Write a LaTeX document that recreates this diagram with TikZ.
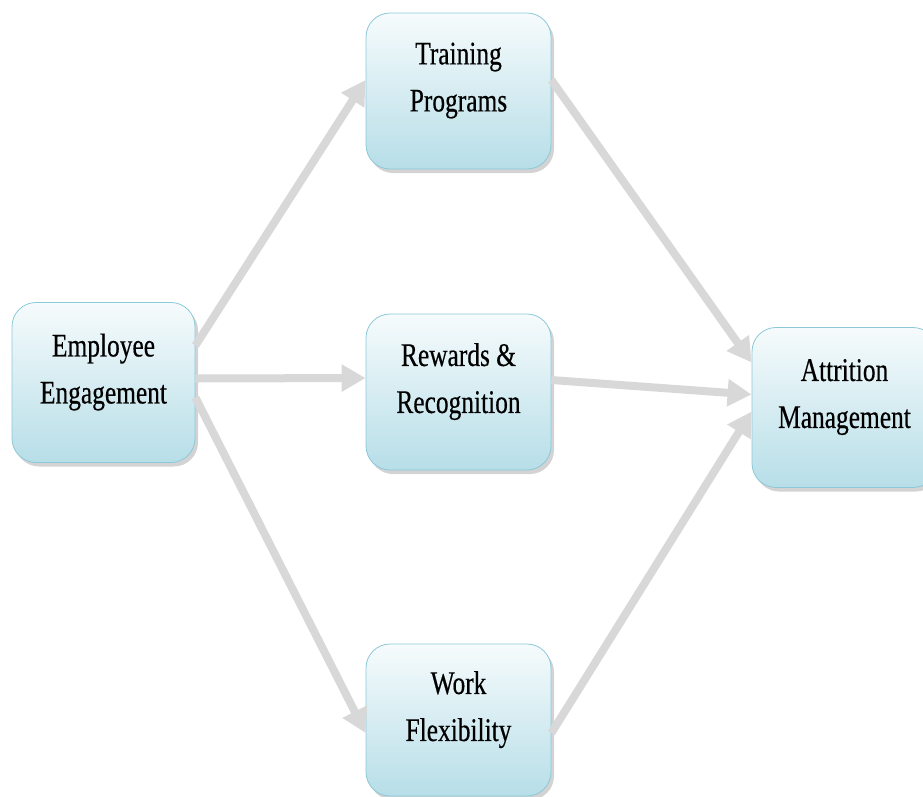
\documentclass[tikz,border=0pt]{standalone}
\usepackage{fontspec}
\newfontfamily\boxfont[FakeStretch=0.77,FakeBold=0.4]{Liberation Serif}
\usetikzlibrary{arrows.meta,shadows}
\definecolor{boxtop}{RGB}{246,251,252}
\definecolor{boxbot}{RGB}{183,222,232}
\definecolor{boxline}{RGB}{140,200,216}
\definecolor{arrowgray}{RGB}{216,216,216}
\tikzset{
  stagebox/.style={draw=boxline, line width=0.8pt, rounded corners=24pt,
    top color=boxtop, bottom color=boxbot, minimum width=185pt, minimum height=156pt,
    align=center, font=\boxfont\fontsize{33}{47}\selectfont,
    text depth=28pt,
    drop shadow={shadow xshift=3pt, shadow yshift=-4pt, opacity=0.35, fill=gray}},
  flow/.style={draw=arrowgray, line width=8pt, -{Triangle[length=24pt,width=26pt]}}
}
\begin{document}
\begin{tikzpicture}[x=1pt,y=-1pt]
\useasboundingbox (0,0) rectangle (923,796);
\clip (0,0) rectangle (923,796);
\node[stagebox, minimum width=183pt, minimum height=160pt] (ee) at (103.5,382.5) {Employee\\Engagement};
\node[stagebox] (tp) at (458.5,91) {Training\\Programs};
\node[stagebox] (rr) at (458.5,392) {Rewards \&\\Recognition};
\node[stagebox, minimum height=152pt] (wf) at (458.5,720) {Work\\Flexibility};
\node[stagebox, minimum height=160pt] (am) at (844.5,407.5) {Attrition\\Management};
\draw[flow] ([yshift=37pt]ee.east) -- ([yshift=11pt]tp.west);
\draw[flow] ([yshift=4pt]ee.east) -- ([yshift=14pt]rr.west);
\draw[flow] ([yshift=-15pt]ee.east) -- ([yshift=-13pt]wf.west);
\draw[flow] ([yshift=11pt]tp.east) -- ([yshift=45pt]am.west);
\draw[flow] ([yshift=12pt]rr.east) -- ([yshift=13pt]am.west);
\draw[flow] ([yshift=-13pt]wf.east) -- ([yshift=-4pt]am.west);
\end{tikzpicture}
\end{document}
